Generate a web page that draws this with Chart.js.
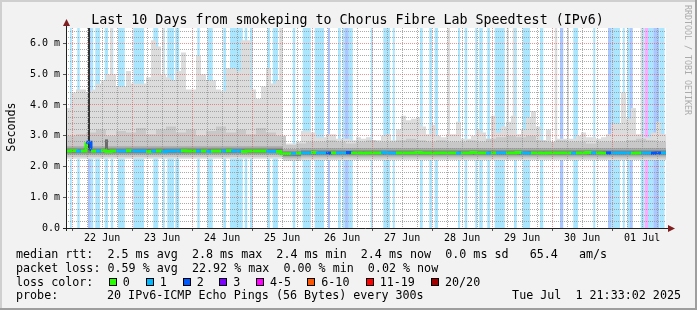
<!DOCTYPE html>
<html><head><meta charset="utf-8">
<script src="https://cdn.jsdelivr.net/npm/chart.js@4.4.1/dist/chart.umd.min.js"></script>
<style>html,body{margin:0;padding:0;background:#f2f2f2;overflow:hidden}canvas{display:block}</style>
</head><body>
<canvas id="c" width="697" height="310"></canvas>
<script>
// ---------- data (hours since Jun 21 21:33, 10 days = 240 h) ----------
const titleText = "Last 10 Days from smokeping to Chorus Fibre Lab Speedtest (IPv6)";
const dayLabels = ["22 Jun","23 Jun","24 Jun","25 Jun","26 Jun","27 Jun","28 Jun","29 Jun","30 Jun","01 Jul"];
const yTickLabels = ["0.0","1.0 m","2.0 m","3.0 m","4.0 m","5.0 m","6.0 m"];
const firstMidnight = 2.45;

// loss events: start h, end h, loss class (1 = 1/20, 2 = 2/20, 3 = 3/20, 4 = 4-5/20)
const lossStart = [1.5,4.5,8.8,9.9,11.7,15.5,17.9,20.8,26.9,34.9,38.7,40.5,43.7,52.5,56.5,62.9,65.6,71.5,73.6,80.5,82.7,90.7,94.7,99.5,104.8,108.8,110.7,111.5,113.1,121.9,126.9,130.7,141.6,145.3,147.5,156.8,159.5,163.7,165.3,168.5,171.5,179.2,182.7,189.6,197.6,202.9,210.9,216.8,218.0,222.7,224.5,225.6,229.9,231.5,232.8,234.9,237.3];
const lossEnd   = [2.3,5.5,9.9,10.9,13.6,16.8,18.9,23.5,31.2,36.9,39.5,43.2,45.3,53.5,58.7,64.0,70.7,72.5,74.7,81.6,84.8,91.7,97.9,103.2,105.6,109.9,111.5,113.1,114.7,122.7,129.6,131.5,142.7,146.4,148.8,157.6,160.5,164.5,166.7,169.6,175.5,180.3,185.6,190.9,198.9,204.8,211.7,218.0,221.6,223.5,225.6,226.7,231.5,232.8,234.9,237.3,239.5];
const lossLevel = [1,1,2,1,1,1,1,1,1,1,1,1,1,1,1,1,1,1,1,1,1,1,1,1,2,1,1,2,1,1,1,1,1,1,1,1,1,1,1,1,1,1,1,1,2,1,1,2,1,1,1,2,1,4,1,2,1];

// smoke: upper edge of the outer smoke (2 h bins)
const smokeMax = [3.9,4.4,4.5,4.5,4.4,4.5,4.7,4.8,5.0,5.0,
  4.6,4.6,5.1,4.7,4.7,4.7,4.9,6.1,5.9,5.0,
  4.9,4.8,5.1,5.7,4.5,4.5,5.6,5.0,4.8,4.8,
  4.5,4.45,5.2,5.2,5.1,6.1,6.1,4.5,4.2,4.6,
  5.2,4.7,4.8,2.75,2.75,2.75,2.8,3.15,3.15,3.1,
  2.95,2.95,3.05,3.05,2.9,2.9,2.9,2.85,2.95,2.9,
  2.95,2.85,2.85,3.0,3.05,2.85,3.2,3.65,3.5,3.55,
  3.6,3.3,3.05,3.35,3.0,2.95,3.05,3.05,3.45,2.9,
  2.9,3.0,3.2,3.1,2.9,3.65,3.1,3.3,3.45,3.65,
  3.05,3.2,3.6,3.8,3.3,2.75,3.2,2.75,2.9,2.9,
  2.9,2.9,3.0,3.1,2.95,2.95,2.9,2.95,3.05,3.4,
  3.4,4.4,3.55,3.9,3.05,2.95,2.95,3.1,3.45,3.05];
// smoke: upper edge of the middle smoke (4 h bins)
const smokeMid = [3.0,3.05,3.1,3.2,3.0,3.15,3.1,3.25,3.05,3.2,3.3,3.1,3.2,3.0,3.15,3.3,3.1,3.2,3.05,3.25,3.1,3.0,
  2.7,2.75,2.8,2.8,2.85,2.8,2.75,2.8,2.85,2.8,
  2.8,2.85,2.9,2.85,2.8,2.85,2.8,2.8,2.85,2.8,
  2.9,2.95,3.0,2.95,3.0,2.85,2.8,2.85,2.8,2.8,
  2.75,2.8,2.8,2.8,2.85,2.9,2.85,2.8];
// smoke levels for the three periods (before / during / after the 25 Jun step)
const periodStart = [0, 86.8, 94.0];
const smokeFloor = [2.25, 2.18, 2.21];
const midFloor   = [2.31, 2.23, 2.26];
const innerLo    = [2.38, 2.29, 2.32];
const innerHi    = [2.66, 2.57, 2.60];
const coreLo     = [2.43, 2.34, 2.37];
const coreHi     = [2.58, 2.49, 2.52];
// narrow smoke columns reaching past the top
const columnStart = [17.6, 38.5, 85.3, 152.5, 176.3, 178.7, 195.5, 200.4, 229.9];
const columnEnd   = [18.7, 39.3, 86.7, 153.6, 177.1, 179.5, 196.5, 201.2, 230.9];
// dark smoke spikes
const spikeStart = [8.8, 15.6];
const spikeEnd   = [9.6, 16.8];
const spikeLow   = [2.55, 2.50];
const spikeHigh  = [6.6, 2.88];
const spikeShade = ["#333333", "#6b6b6b"];
// median rtt (2 h bins)
const medianRtt = [2.50,2.51,2.50,2.50,2.79,2.50,2.50,2.51,2.49,2.50,
  2.50,2.50,2.51,2.50,2.50,2.50,2.49,2.50,2.50,2.48,
  2.50,2.50,2.50,2.51,2.50,2.50,2.50,2.50,2.49,2.50,
  2.50,2.50,2.51,2.50,2.50,2.49,2.50,2.50,2.50,2.50,
  2.49,2.49,2.49,
  2.41,2.41,2.42,2.43,
  2.44,2.44,2.45,2.44,2.44,2.43,2.44,2.44,2.44,2.45,
  2.44,2.44,2.43,2.44,2.44,2.44,2.45,2.44,2.43,2.44,
  2.44,2.44,2.44,2.45,2.44,2.44,2.43,2.44,2.44,2.44,
  2.44,2.43,2.44,2.44,2.45,2.44,2.44,2.43,2.44,2.44,
  2.44,2.44,2.44,2.45,2.44,2.43,2.44,2.44,2.43,2.44,
  2.44,2.44,2.44,2.44,2.43,2.44,2.44,2.45,2.44,2.44,
  2.43,2.44,2.44,2.44,2.44,2.44,2.43,2.44,2.44,2.44,
  2.43,2.44,2.44];

const legendRtt  = "median rtt:  2.5 ms avg  2.8 ms max  2.4 ms min  2.4 ms now  0.0 ms sd   65.4   am/s";
const legendLoss = "packet loss: 0.59 % avg  22.92 % max  0.00 % min  0.02 % now";
const lossClassLabels = ["0","1","2","3","4-5","6-10","11-19","20/20"];
const probeText = "20 IPv6-ICMP Echo Pings (56 Bytes) every 300s";
const dateText = "Tue Jul  1 21:33:02 2025";

// ---------- styles ----------
const HOURS = 240, YMAX = 6.5;
const lossColors = ["#26ff00","#00b8ff","#0059ff","#7e00ff","#ff00ff","#ff5500","#ff0000","#a10000"];
const lossBg = [null,"rgb(170,231,255)","rgb(170,200,255)","rgb(212,170,255)","rgb(255,170,255)","rgb(255,198,170)","rgb(255,170,170)","rgb(214,170,170)"];
const GRID = "rgba(143,143,143,0.75)", MGRID = "rgba(222,79,79,0.6)";
const MONO = '"DejaVu Sans Mono", monospace';

function binPts(vals, w) { const p = vals.map((v, i) => ({x: i * w, y: v})); p.push({x: HOURS, y: vals[vals.length - 1]}); return p; }
function periodPts(vals) { const p = periodStart.map((x, i) => ({x, y: vals[i]})); p.push({x: HOURS, y: vals[vals.length - 1]}); return p; }

const datasets = [];
function push(d) {
  datasets.push(Object.assign({type: 'line', stepped: true, pointRadius: 0, borderWidth: 0,
    borderColor: 'rgba(0,0,0,0)', fill: false, order: 1000 - datasets.length}, d));
  return datasets.length - 1;
}
function band(bot, top, color) { const b = push({data: bot}); push({data: top, fill: b, backgroundColor: color}); }

// loss background bars
[...new Set(lossLevel)].sort().forEach(lvl => {
  const pts = [];
  lossStart.forEach((s, i) => { if (lossLevel[i] === lvl) { pts.push({x: s, y: YMAX}); pts.push({x: lossEnd[i], y: 0}); } });
  push({data: pts, fill: 'origin', backgroundColor: lossBg[lvl]});
});
// smoke
band(periodPts(smokeFloor), binPts(smokeMax, 2), "#dcdcdc");
{
  const pts = [];
  columnStart.forEach((s, i) => { pts.push({x: s, y: 7}); pts.push({x: columnEnd[i], y: 2.3}); });
  push({data: pts, fill: {value: 2.3}, backgroundColor: "#dcdcdc"});
}
band(periodPts(midFloor), binPts(smokeMid, 4), "#c8c8c8");
band(periodPts(innerLo), periodPts(innerHi), "#a9a9a9");
band(periodPts(coreLo), periodPts(coreHi), "#7d7d7d");
spikeStart.forEach((s, i) => {
  band([{x: s, y: spikeLow[i]}, {x: spikeEnd[i], y: spikeLow[i]}], [{x: s, y: spikeHigh[i]}, {x: spikeEnd[i], y: spikeHigh[i]}], spikeShade[i]);
});
// median line coloured by the loss class at the middle of each bin
function lossClassAt(x) {
  let m = 0;
  for (let i = 0; i < lossStart.length; i++) if (x >= lossStart[i] && x < lossEnd[i]) m = Math.max(m, lossLevel[i]);
  return m;
}
push({data: binPts(medianRtt, 2), borderWidth: 3, borderColor: lossColors[0], borderCapStyle: 'butt',
  segment: {borderColor: c => lossColors[lossClassAt((c.p0.parsed.x + c.p1.parsed.x) / 2)]}});

const xTicks = []; for (let v = firstMidnight; v < HOURS; v += 6) xTicks.push(v);
const yTicks = []; for (let k = 0; k <= 32; k++) yTicks.push(k / 5);

const deco = {
  id: 'deco',
  beforeDraw(chart) {
    const c = chart.ctx, a = chart.chartArea;
    c.save();
    c.fillStyle = '#f2f2f2'; c.fillRect(0, 0, 697, 310);
    c.fillStyle = '#cfcfcf'; c.fillRect(0, 0, 697, 2); c.fillRect(0, 0, 2, 310);
    c.fillStyle = '#9e9e9e'; c.fillRect(0, 308, 697, 2); c.fillRect(695, 0, 2, 310);
    c.fillStyle = '#ffffff'; c.fillRect(a.left, a.top, a.right - a.left, a.bottom - a.top);
    c.restore();
  },
  afterDraw(chart) {
    const c = chart.ctx, a = chart.chartArea;
    c.save();
    c.strokeStyle = '#1f1f1f'; c.lineWidth = 1;
    c.beginPath(); c.moveTo(a.left - 3, a.bottom + 0.5); c.lineTo(a.right + 2, a.bottom + 0.5); c.stroke();
    c.beginPath(); c.moveTo(a.left + 0.5, a.bottom + 3); c.lineTo(a.left + 0.5, a.top - 3); c.stroke();
    c.fillStyle = '#7f1f1f';
    c.beginPath(); c.moveTo(a.right + 2, a.bottom - 3); c.lineTo(a.right + 9, a.bottom + 0.5); c.lineTo(a.right + 2, a.bottom + 4); c.closePath(); c.fill();
    c.beginPath(); c.moveTo(a.left - 3, a.top - 2); c.lineTo(a.left + 0.5, a.top - 9); c.lineTo(a.left + 4, a.top - 2); c.closePath(); c.fill();

    c.fillStyle = '#000';
    c.textBaseline = 'alphabetic';
    c.font = '13.3px ' + MONO; c.textAlign = 'center';
    c.fillText(titleText, 347.5, 24);

    c.save(); c.translate(15, 127); c.rotate(-Math.PI / 2);
    c.font = '11.7px ' + MONO; c.textAlign = 'center'; c.fillText('Seconds', 0, 0); c.restore();

    c.save(); c.translate(685, 5); c.rotate(Math.PI / 2);
    c.font = '8.3px ' + MONO; c.textAlign = 'left'; c.fillStyle = '#ababab';
    c.fillText('RRDTOOL / TOBI OETIKER', 0, 0); c.restore();

    c.font = '11.7px ' + MONO; c.textAlign = 'left';
    c.fillText(legendRtt, 16, 258.3);
    c.fillText(legendLoss, 16, 272);
    c.fillText('loss color:', 16, 285.7);
    const boxX = [108.7, 145.7, 182.7, 219.3, 256, 307.3, 365.7, 431];
    boxX.forEach((x, i) => {
      c.fillStyle = '#000'; c.fillRect(Math.round(x), 278, 8, 8);
      c.fillStyle = lossColors[i]; c.fillRect(Math.round(x) + 1, 279, 6, 6);
      c.fillStyle = '#000'; c.fillText(lossClassLabels[i], x + 14, 285.7);
    });
    c.fillText('probe:', 16, 299.3);
    c.fillText(probeText, 107, 299.3);
    c.textAlign = 'right'; c.fillText(dateText, 681, 299.3);
    c.restore();
  }
};

new Chart(document.getElementById('c'), {
  type: 'line',
  data: {datasets},
  plugins: [deco],
  options: {
    responsive: false, animation: false, devicePixelRatio: 1,
    layout: {padding: {left: 0, right: 31, top: 28, bottom: 0}},
    plugins: {legend: {display: false}, tooltip: {enabled: false}, title: {display: false}},
    elements: {point: {radius: 0}, line: {tension: 0}},
    scales: {
      x: {
        type: 'linear', min: 0, max: HOURS, offset: false,
        afterBuildTicks: s => { s.ticks = xTicks.map(v => ({value: v})); },
        afterFit: s => { s.height = 82; },
        grid: {z: 1, lineWidth: 1, tickLength: 3,
          color: c => (c.index % 4 === 0 ? MGRID : GRID),
          tickColor: c => (c.index % 4 === 0 ? '#555' : 'rgba(0,0,0,0)')},
        border: {display: false, dash: [1, 1]},
        ticks: {autoSkip: false, maxRotation: 0, minRotation: 0, padding: 1, color: '#000',
          font: {family: MONO, size: 10},
          callback: (v, i) => (i % 4 === 2 ? dayLabels[(i - 2) / 4] : '')}
      },
      y: {
        type: 'linear', min: 0, max: YMAX,
        afterBuildTicks: s => { s.ticks = yTicks.map(v => ({value: v})); },
        afterFit: s => { s.width = 66; },
        grid: {z: 1, lineWidth: 1, tickLength: 3,
          color: c => (c.index % 5 === 0 ? MGRID : GRID),
          tickColor: c => (c.index % 5 === 0 ? '#555' : 'rgba(0,0,0,0)')},
        border: {display: false, dash: [1, 1]},
        ticks: {autoSkip: false, padding: 3, color: '#000', font: {family: MONO, size: 10},
          callback: (v, i) => (i % 5 === 0 ? yTickLabels[i / 5] : '')}
      }
    }
  }
});
</script>
</body></html>
